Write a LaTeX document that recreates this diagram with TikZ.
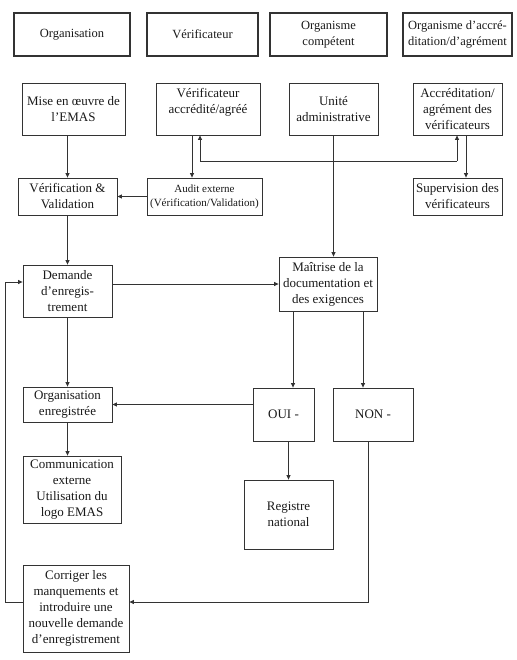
\documentclass[tikz,border=0pt]{standalone}
\usepackage{fontspec}
\setmainfont{Liberation Serif}
\usetikzlibrary{arrows.meta}
\begin{document}
\begin{tikzpicture}[x=1pt,y=-1pt,
 box/.style={draw=black!80, line width=0.8pt, inner sep=1pt, align=center, font=\fontsize{13}{16}\selectfont, text=black!90},
 head/.style={box, line width=2pt, font=\fontsize{12.5}{16.5}\selectfont},
 arr/.style={draw=black!80, line width=0.8pt, -{Triangle[length=4.5pt,width=4pt]}},
 ln/.style={draw=black!80, line width=0.8pt}]
\useasboundingbox (0,0) rectangle (516,660);
% headers
\node[head, minimum width=116, minimum height=43] (h1) at (72,34.5) {Organisation};
\node[head, minimum width=111, minimum height=43] (h2) at (202.5,34.5) {Vérificateur};
\node[head, minimum width=117, minimum height=43] (h3) at (328.5,34.5) {Organisme\\compétent};
\node[head, minimum width=109, minimum height=43] (h4) at (457.5,34.5) {Organisme d’accré-\\ditation/d’agrément};
% row 2
\node[box, minimum width=103, minimum height=52] (mise) at (73.5,109) {Mise en œuvre de\\l’EMAS};
\node[box, minimum width=104, minimum height=52] (verif) at (208,109) {Vérificateur\\accrédité/agréé\\\mbox{}};
\node[box, minimum width=89, minimum height=52] (unite) at (333.5,109) {Unité\\administrative};
\node[box, minimum width=89, minimum height=52] (accr) at (457.5,109) {Accréditation/\\agrément des\\vérificateurs};
% row 3
\node[box, minimum width=99, minimum height=37] (vv) at (67.5,196.5) {Vérification \&\\Validation};
\node[box, minimum width=115, minimum height=37, font=\fontsize{11}{14}\selectfont] (audit) at (204.5,196.5) {Audit externe\\(Vérification/Validation)};
\node[box, minimum width=89, minimum height=37] (superv) at (457.5,196.5) {Supervision des\\vérificateurs};
% middle
\node[box, minimum width=89, minimum height=52] (demande) at (67.5,291) {Demande\\d’enregis-\\trement};
\node[box, minimum width=98, minimum height=54] (maitrise) at (328,284) {Maîtrise de la\\documentation et\\des exigences};
\node[box, minimum width=61, minimum height=53] (oui) at (283.5,414.5) {OUI -};
\node[box, minimum width=80, minimum height=53] (non) at (373,414.5) {NON -};
\node[box, minimum width=89, minimum height=35] (orgenr) at (67.5,404.5) {Organisation\\enregistrée};
\node[box, minimum width=98, minimum height=67] (comm) at (72,489.5) {Communication\\externe\\Utilisation du\\logo EMAS};
\node[box, minimum width=89, minimum height=69] (registre) at (288.5,514.5) {Registre\\national};
\node[box, minimum width=106, minimum height=87] (corriger) at (76,608.5) {Corriger les\\manquements et\\introduire une\\nouvelle demande\\d’enregistrement};
% connectors
\draw[arr] (mise.south -| vv.north) -- (vv.north);
\draw[arr] ([xshift=-16pt]verif.south) -- ([xshift=-16pt]verif.south |- audit.north);
\coordinate (jl) at (200,161);
\coordinate (jr) at (457,161);
\draw[ln] (jl) -- (jr);
\draw[arr] (jl) -- (jl |- verif.south);
\draw[arr] (jr) -- (jr |- accr.south);
\draw[arr] (unite.south) -- (unite.south |- maitrise.north);
\draw[arr] ([xshift=8.5pt]accr.south) -- ([xshift=8.5pt]accr.south |- superv.north);
\draw[arr] (audit.west) -- (vv.east);
\draw[arr] (vv.south) -- (vv.south |- demande.north);
\draw[arr] ([yshift=7pt]demande.east) -- ([yshift=7pt]demande.east -| maitrise.west);
\draw[arr] ([xshift=-35pt]maitrise.south) -- ([xshift=-35pt]maitrise.south |- oui.north);
\draw[arr] ([xshift=35pt]maitrise.south) -- ([xshift=35pt]maitrise.south |- non.north);
\draw[arr] (demande.south) -- (demande.south |- orgenr.north);
\draw[arr] (orgenr.east -| oui.west) -- (orgenr.east);
\draw[arr] (orgenr.south) -- (orgenr.south |- comm.north);
\draw[arr] (oui.south -| registre.north) -- (registre.north);
\coordinate (nb) at (368,602);
\draw[arr] (non.south -| nb) -- (nb) -- (nb -| corriger.east);
\coordinate (fb) at (5,602);
\coordinate (fbt) at (5,282);
\draw[arr] (fb -| corriger.west) -- (fb) -- (fbt) -- (fbt -| demande.west);
\end{tikzpicture}
\end{document}
